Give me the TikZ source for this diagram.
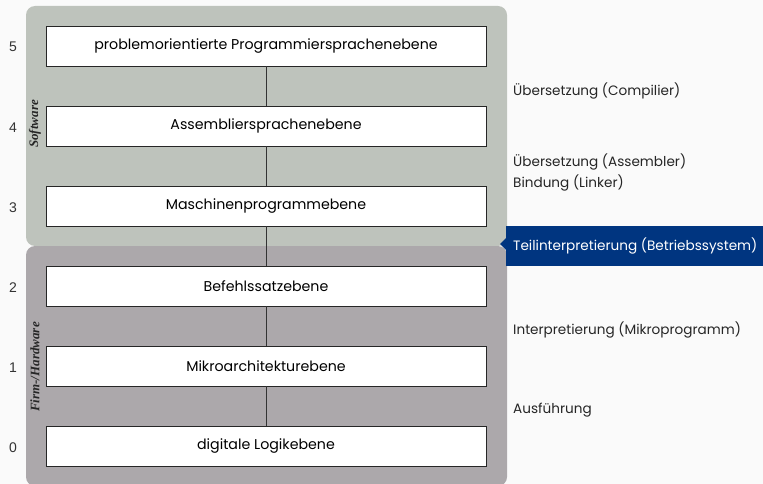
\documentclass[tikz,border=0pt]{standalone}
\usepackage{fontspec}
\setmainfont{Poppins}
\newfontfamily\labelserif{Liberation Serif}
\newfontfamily\numsans{Liberation Sans}
\begin{document}
\begin{tikzpicture}[x=1pt,y=-1pt,
  level/.style={draw=black!85,line width=0.9pt,fill=white,minimum width=440pt,minimum height=40pt,inner sep=0pt,font=\fontsize{14.2}{16}\selectfont},
  lnum/.style={font=\numsans\fontsize{14}{16}\selectfont,text=black!80},
  side/.style={anchor=west,font=\fontsize{13.6}{15}\selectfont,text=black!85,inner sep=0pt},
  grp/.style={rotate=90,font=\labelserif\bfseries\itshape\fontsize{13}{14}\selectfont,text=black!85},
  link/.style={draw=black!80,line width=0.9pt}]
\definecolor{bgc}{HTML}{FAFAFA}
\definecolor{swc}{HTML}{BEC3BC}
\definecolor{hwc}{HTML}{ACA8AB}
\definecolor{osblue}{HTML}{003580}
\fill[bgc] (0,0) rectangle (763,484);
\useasboundingbox (0,0) rectangle (763,484);
% panels
\fill[swc,rounded corners=9pt] (26,6) rectangle (507,246);
\fill[hwc,rounded corners=9pt] (26,246) rectangle (507,486);
% levels
\node[level] (l5) at (266,46) {\raisebox{-2pt}{problemorientierte Programmiersprachenebene}};
\node[level] (l4) at (266,126) {\raisebox{-2pt}{Assembliersprachenebene}};
\node[level] (l3) at (266,206) {\raisebox{-2pt}{Maschinenprogrammebene}};
\node[level] (l2) at (266,286) {\raisebox{-2pt}{Befehlssatzebene}};
\node[level] (l1) at (266,366) {\raisebox{-2pt}{Mikroarchitekturebene}};
\node[level] (l0) at (266,446) {\raisebox{-2pt}{digitale Logikebene}};
\draw[link] (l5.south) -- (l4.north);
\draw[link] (l4.south) -- (l3.north);
\draw[link] (l3.south) -- (l2.north);
\draw[link] (l2.south) -- (l1.north);
\draw[link] (l1.south) -- (l0.north);
% level numbers
\node[lnum] (n5) at (13,47) {5};
\node[lnum] (n4) at (13,128) {4};
\node[lnum] (n3) at (13,208) {3};
\node[lnum] (n2) at (13,288) {2};
\node[lnum] (n1) at (13,368) {1};
\node[lnum] (n0) at (13,448) {0};
% group labels
\node[grp] (gsw) at (35,124) {Software};
\node[grp] (ghw) at (35,367) {Firm-/Hardware};
% transitions
\node[side] (t54) at (513,90.5) {Übersetzung (Compilier)};
\node[side] (t43a) at (513,161.5) {Übersetzung (Assembler)};
\node[side] (t43b) at (513,182.5) {Bindung (Linker)};
\fill[osblue] (506,226) rectangle (763,266);
\fill[osblue] (506,238) -- (500,244) -- (506,250) -- cycle;
\node[side,text=white] (t32) at (513,245.5) {Teilinterpretierung (Betriebssystem)};
\node[side] (t21) at (513,329.5) {Interpretierung (Mikroprogramm)};
\node[side] (t10) at (513,410.5) {Ausführung};
\end{tikzpicture}
\end{document}
